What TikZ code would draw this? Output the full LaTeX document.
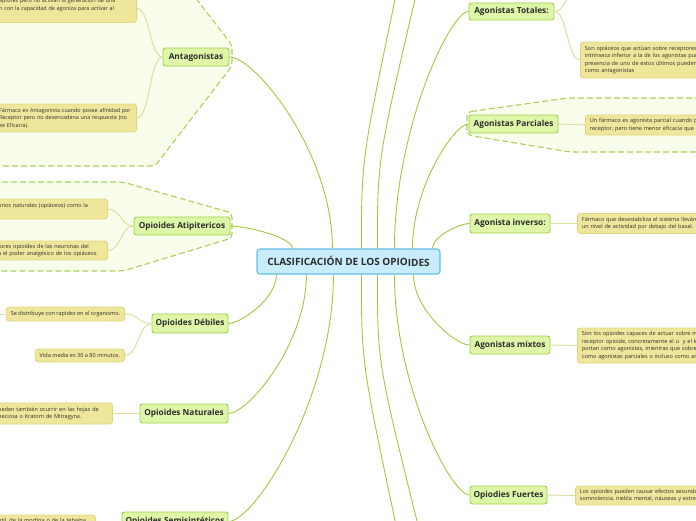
\documentclass[tikz,border=0pt]{standalone}
\usepackage{fontspec}
\setmainfont{Open Sans}
\usetikzlibrary{calc}
\definecolor{brc}{RGB}{160,202,62}
\definecolor{lfc}{RGB}{224,221,160}
\definecolor{tpb}{RGB}{160,206,74}
\definecolor{tpf}{RGB}{222,246,168}
\definecolor{lfb}{RGB}{222,214,128}
\definecolor{lff}{RGB}{238,231,155}
\definecolor{bdc}{RGB}{170,210,90}
\definecolor{bdf}{RGB}{249,253,236}
\definecolor{cnb}{RGB}{95,190,235}
\definecolor{cnf}{RGB}{200,236,252}
\definecolor{txt}{RGB}{45,45,45}
\newcommand\mmbranch[2]{\draw[branch] (#1) .. controls ($(#1)!0.5!(#1|-#2)$) and ($(#2)!0.25!(#1|-#2)$) .. (#2);}
\newcommand\mmleaf[2]{\draw[leafline] (#1) .. controls ($(#1)!0.5!(#2|-#1)$) and ($(#2)!0.5!(#1|-#2)$) .. (#2);}
\newcommand\mmstraight[2]{\draw[branch] (#1) .. controls ($(#1)!0.35!(#1|-#2)$) .. (#2);}
\tikzset{
  branch/.style={draw=brc, line width=0.9pt},
  leafline/.style={draw=lfc, line width=1pt},
  topic/.style={draw=tpb, fill=tpf, line width=0.9pt, rounded corners=2.5pt, inner sep=0pt,
    font=\fontsize{8.3}{10}\selectfont\bfseries, text=txt},
  leaf/.style={draw=lfb, fill=lff, line width=0.8pt, rounded corners=3pt, inner xsep=4.5pt,
    inner ysep=2pt, align=left, font=\fontsize{5.55}{7.6}\selectfont, text=txt},
  smallleaf/.style={leaf, font=\fontsize{5.4}{7.6}\selectfont},
  bound/.style={draw=bdc, fill=bdf, dash pattern=on 6pt off 3pt, line width=1.1pt, rounded corners=4pt},
  central/.style={draw=cnb, fill=cnf, line width=1.1pt, rounded corners=3pt, inner sep=0pt,
    font=\fontsize{10}{11}\selectfont\bfseries, text=txt}
}
\begin{document}
\begin{tikzpicture}[x=1pt,y=-1pt]
\useasboundingbox (0,0) rectangle (696,520);
% boundaries
\path[bound] (-20,-30) -- (174,-30) -- (232,45) -- (232,66) -- (155,166) -- (-20,166) -- cycle;
\path[bound] (-20,182) -- (123,182) -- (232,213) -- (232,238) -- (123,271) -- (-20,271) -- cycle;
\path[bound] (467,112) -- (568,98) -- (720,98) -- (720,152) -- (570,152) -- (467,135) -- cycle;
% central
\node[central, minimum width=183pt, minimum height=25pt] (cen) at (348.5,261.5)
  {CLASIFICACIÓN DE LOS OPIO\raisebox{-0.8pt}{IDES}};
% topics
\node[topic, minimum width=66pt, minimum height=18pt] (ant) at (196,57) {Antagonistas};
\node[topic, minimum width=96pt, minimum height=18pt] (ati) at (182,226) {Opioides Atipitericos};
\node[topic, minimum width=76pt, minimum height=19pt] (deb) at (190,323.5) {Opioides Débiles};
\node[topic, minimum width=88pt, minimum height=19pt] (nat) at (184,413.5) {Opioides Naturales};
\node[topic, minimum width=106pt, minimum height=19pt] (sem) at (175,521.5) {Opioides Semisintéticos};
\node[topic, minimum width=85pt, minimum height=17pt] (tot) at (511.5,11.5) {Agonistas Totales:};
\node[topic, minimum width=89pt, minimum height=18pt] (par) at (513.5,124) {Agonistas Parciales};
\node[topic, minimum width=80pt, minimum height=19pt] (inv) at (510,223.5) {Agonista inverso:};
\node[topic, minimum width=80pt, minimum height=18pt] (mix) at (510,345) {Agonistas mixtos};
\node[topic, minimum width=77pt, minimum height=18pt] (fue) at (508.5,495) {Opiodies Fuertes};
% leaves left
\node[smallleaf, anchor=east, text width=133pt, minimum height=28pt] (al1) at (137,8.5)
  {eptores pero no activan la generación de una\\n con la capacidad de agoniza para activar al\\\mbox{}};
\node[smallleaf, anchor=east, text width=133pt, minimum height=28pt] (al2) at (137,118)
  {Fármaco es Antagonista cuando posee afinidad por\\Receptor pero no desencadena una respuesta (no\\ee Eficacia).};
\node[leaf, anchor=east, text width=105pt, minimum height=20pt] (at1) at (108,209)
  {unos naturales (opiáceos) como la\\\mbox{}};
\node[leaf, anchor=east, text width=105pt, minimum height=19pt] (at2) at (108,250.5)
  {tores opioides de las neuronas del\\a el poder analgésico de los opiáceos.};
\node[leaf, anchor=east, minimum height=14pt] (dl1) at (125,314) {Se distribuye con rapidez en el organismo.};
\node[leaf, anchor=east, minimum height=13pt] (dl2) at (125,355.5) {Vida media es 30 a 80 minutos.};
\node[leaf, anchor=east, text width=110pt, minimum height=21pt] (nl) at (113,413.5)
  {ueden también ocurrir en las hojas de\\peciosa o Kratom de Mitragyna.};
\node[leaf, anchor=east, text width=93pt, minimum height=20pt] (sl) at (96,525)
  {ntil, de la morfina o de la tebaína\\y son más potentes.};
% leaves right
\node[leaf, anchor=west, text width=200pt, minimum height=36pt] (tl2) at (580,60)
  {Son opiáceos que actúan sobre receptores µ con actividad\\intrínseca inferior a la de los agonistas puros; en\\presencia de uno de estos últimos pueden comportarse\\como antagonistas};
\node[leaf, anchor=west, text width=200pt, minimum height=20pt] (pl) at (585,125)
  {Un fármaco es agonista parcial cuando posee afinidad por el\\receptor, pero tiene menor eficacia que el agonista total.};
\node[leaf, anchor=west, text width=200pt, minimum height=20pt] (il) at (577,223.5)
  {Fármaco que desestabiliza el sistema llevándolo a\\un nivel de actividad por debajo del basal.};
\node[leaf, anchor=west, text width=200pt, minimum height=35pt] (ml) at (577,345.5)
  {Son los opioides capaces de actuar sobre más de un tipo de\\receptor opioide, concretamente el u~~y el k, sobre el k se com-\\portan como agonistas, mientras que sobre el u lo hacen\\como agonistas parciales o incluso como antagonistas.};
\node[leaf, anchor=west, text width=200pt, minimum height=19pt] (fl) at (575,495.5)
  {Los opioides pueden causar efectos secundarios como\\somnolencia, niebla mental, náuseas y estreñimiento.};
% start points on central node
\coordinate (t1) at ($(cen.north west)+(36,0)$);
\coordinate (t2) at ($(cen.north west)+(76,0)$);
\coordinate (t3) at ($(cen.north west)+(105,0)$);
\coordinate (t4) at ($(cen.north west)+(121,0)$);
\coordinate (t5) at ($(cen.north west)+(138,0)$);
\coordinate (t6) at ($(cen.north west)+(156,0)$);
\coordinate (t7) at ($(cen.north west)+(176,0)$);
\coordinate (b1) at ($(cen.south west)+(20,0)$);
\coordinate (b2) at ($(cen.south west)+(50,0)$);
\coordinate (b3) at ($(cen.south west)+(77,0)$);
\coordinate (b4) at ($(cen.south west)+(105,0)$);
\coordinate (b5) at ($(cen.south west)+(121,0)$);
\coordinate (b6) at ($(cen.south west)+(138,0)$);
\coordinate (b7) at ($(cen.south west)+(157,0)$);
% free ends outside the view
\coordinate (up1) at (396,-5);
\coordinate (up2) at (416,-5);
\coordinate (dn1) at (396,525);
\coordinate (dn2) at (418,525);
\coordinate (tl1) at (580,-15);
\coordinate (dlx) at (-10,314);
% branches
\mmbranch{t1}{ati.east}
\mmbranch{t2}{ant.east}
\mmstraight{t3}{up1}
\mmstraight{t4}{up2}
\mmbranch{t5}{tot.west}
\mmbranch{t6}{par.west}
\mmbranch{t7}{inv.west}
\mmbranch{b1}{deb.east}
\mmbranch{b2}{nat.east}
\mmbranch{b3}{sem.east}
\mmstraight{b4}{dn1}
\mmstraight{b5}{dn2}
\mmbranch{b6}{fue.west}
\mmbranch{b7}{mix.west}
% leaf connectors
\mmleaf{ant.west}{al1.east}
\mmleaf{ant.west}{al2.east}
\mmleaf{ati.west}{at1.east}
\mmleaf{ati.west}{at2.east}
\mmleaf{deb.west}{dl1.east}
\mmleaf{deb.west}{dl2.east}
\draw[leafline] (dl1.west) -- (dlx);
\mmleaf{nat.west}{nl.east}
\mmleaf{sem.west}{sl.east}
\mmleaf{tot.east}{tl1}
\mmleaf{tot.east}{tl2.west}
\mmleaf{par.east}{pl.west}
\mmleaf{inv.east}{il.west}
\mmleaf{mix.east}{ml.west}
\mmleaf{fue.east}{fl.west}
\end{tikzpicture}
\end{document}
